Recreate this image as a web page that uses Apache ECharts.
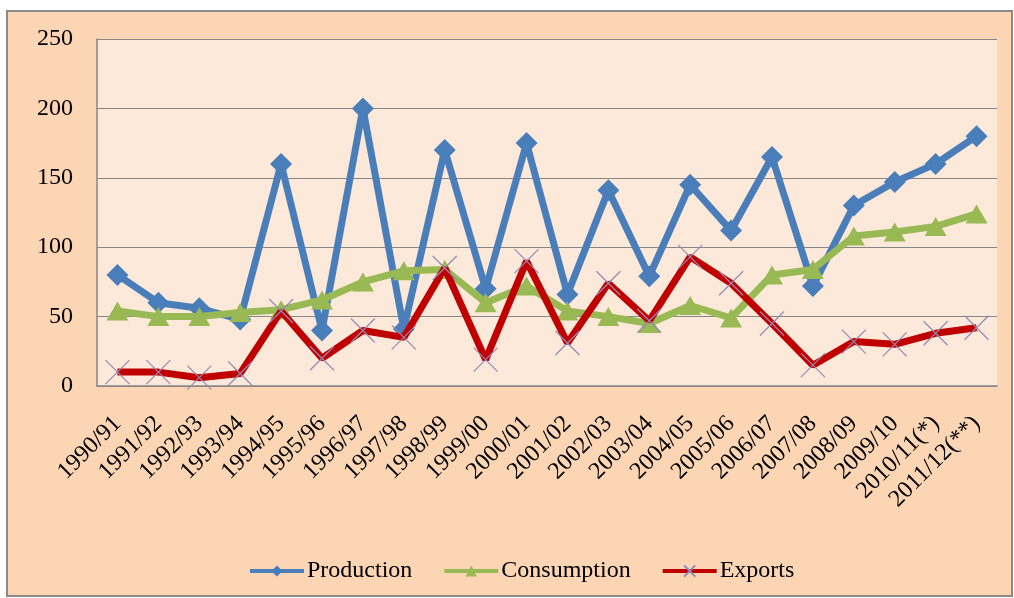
<!DOCTYPE html>
<html>
<head>
<meta charset="utf-8">
<script src="https://cdn.jsdelivr.net/npm/echarts@6/dist/echarts.min.js"></script>
<style>
  html, body { margin: 0; padding: 0; background: #ffffff; }
  #chart { width: 1014px; height: 598px; }
</style>
</head>
<body>
<div id="chart"></div>
<script>
const seasons = [
  '1990/91', '1991/92', '1992/93', '1993/94', '1994/95', '1995/96', '1996/97', '1997/98',
  '1998/99', '1999/00', '2000/01', '2001/02', '2002/03', '2003/04', '2004/05', '2005/06',
  '2006/07', '2007/08', '2008/09', '2009/10', '2010/11(*)', '2011/12(**)'
];
const production = [80, 60, 56, 48, 160, 40, 200, 41, 170, 70, 175, 66, 141, 79, 145, 112, 165, 72, 130, 147, 160, 180];
const consumption = [54, 50, 50, 53, 55, 62, 75, 83, 84, 60, 72, 54, 50, 45, 58, 49, 80, 84, 108, 111, 115, 124];
const exports = [10, 10, 6, 9, 54, 20, 40, 35, 85, 19, 90, 31, 74, 47, 93, 74, 45, 15, 32, 30, 38, 42];
const yTicks = [0, 50, 100, 150, 200, 250];

const serif = '"Liberation Serif", "Times New Roman", serif';
const gridColor = '#868686';

const chart = echarts.init(document.getElementById('chart'), null, { renderer: 'canvas' });

chart.setOption({
  backgroundColor: '#ffffff',
  animation: false,
  graphic: [
    {
      type: 'rect',
      z: -10,
      silent: true,
      shape: { x: 7, y: 11, width: 1005, height: 585 },
      style: { fill: '#fcd5b5', stroke: '#8a8a8a', lineWidth: 2 }
    }
  ],
  grid: {
    left: 97,
    top: 39,
    right: 17,
    bottom: 212,
    show: true,
    backgroundColor: '#fde9d9',
    borderWidth: 0
  },
  legend: {
    top: 559,
    left: 248,
    padding: 0,
    itemWidth: 54,
    itemHeight: 14,
    itemGap: 30,
    lineStyle: { width: 4 },
    textStyle: { fontFamily: serif, fontSize: 24, color: '#000000', padding: [0, 0, 0, -2] },
    data: ['Production', 'Consumption', 'Exports']
  },
  xAxis: {
    type: 'category',
    data: seasons,
    boundaryGap: true,
    axisLine: { lineStyle: { color: gridColor, width: 1.5 } },
    axisTick: { show: false },
    axisLabel: {
      interval: 0,
      rotate: 45,
      margin: 34,
      fontFamily: serif,
      fontSize: 24,
      color: '#000000'
    }
  },
  yAxis: {
    type: 'value',
    min: yTicks[0],
    max: yTicks[yTicks.length - 1],
    interval: 50,
    axisLine: { show: true, lineStyle: { color: gridColor, width: 1.5 } },
    axisTick: { show: false },
    splitLine: { lineStyle: { color: gridColor, width: 1 } },
    axisLabel: {
      margin: 24,
      padding: [6, 0, 0, 0],
      fontFamily: serif,
      fontSize: 24,
      color: '#000000'
    }
  },
  series: [
    {
      name: 'Production',
      type: 'line',
      z: 2,
      data: production,
      symbol: 'diamond',
      symbolSize: [22, 22],
      color: '#4a7ebb',
      lineStyle: { color: '#4a7ebb', width: 7 },
      itemStyle: { color: '#4a7ebb' }
    },
    {
      name: 'Consumption',
      type: 'line',
      z: 3,
      data: consumption,
      symbol: 'triangle',
      symbolSize: [22, 19],
      color: '#98b954',
      lineStyle: { color: '#98b954', width: 7 },
      itemStyle: { color: '#98b954' }
    },
    {
      name: 'Exports',
      type: 'line',
      z: 4,
      data: exports,
      symbol: 'path://M0,0L10,10M10,0L0,10',
      symbolSize: 24,
      color: '#c00000',
      lineStyle: { color: '#c00000', width: 7 },
      itemStyle: { color: 'none', borderColor: '#9488b5', borderWidth: 1.2 }
    }
  ]
});
</script>
</body>
</html>
